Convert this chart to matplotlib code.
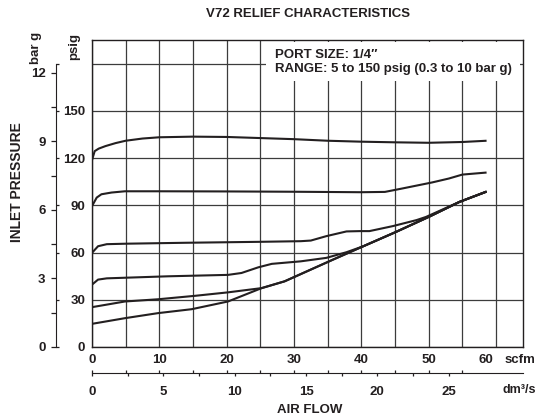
import matplotlib
matplotlib.use("Agg")
import matplotlib.pyplot as plt
from matplotlib.patches import Rectangle

plt.rcParams['font.family'] = ['Liberation Sans', 'DejaVu Sans']
plt.rcParams['font.weight'] = 'bold'

INK = '#231f20'
GRID = '#3c3c3c'
SCFM_PER_DM3S = 2.1189
PSI_PER_BAR = 14.5038
FS = 9.5

# relief curves, air flow in scfm vs inlet pressure in psig
flow_1 = [0, 0.4, 1, 2, 3.5, 5, 7.5, 10, 15, 20, 25, 30, 35, 40, 45, 50, 55, 58.6]
psig_1 = [118.7, 124.4, 126, 127.6, 129.5, 131, 132.4, 133.2, 133.6, 133.4,
          132.7, 132, 131, 130.4, 130, 129.7, 130.2, 131]

flow_2 = [0, 0.7, 1.4, 2.9, 4.9, 10, 20, 30, 40, 43.5, 46, 50.5, 53, 55, 58.6]
psig_2 = [89.5, 94.9, 97, 98.1, 98.9, 98.9, 98.8, 98.6, 98.3, 98.5, 100.6,
          104.5, 107, 109.5, 110.8]

flow_3 = [0, 0.9, 2.2, 5, 14, 25, 31, 32.5, 34.8, 37.8, 39.8, 41.2, 44.7,
          48.2, 49.6, 54.6, 58.6]
psig_3 = [59.8, 64, 65.3, 65.6, 66.2, 66.8, 67.2, 67.6, 70.4, 73.4, 73.6,
          73.6, 76.8, 80.6, 82.6, 92.2, 98.7]

flow_4 = [0, 0.9, 2.2, 11.3, 20.2, 22.2, 24.7, 26.7, 31, 34.8, 37.8, 40.3,
          45, 50.1, 54.6, 58.6]
psig_4 = [39.6, 42.8, 43.6, 44.9, 45.8, 47, 50.6, 52.8, 54.4, 56.6, 60.2, 64,
          72.8, 82.8, 92.2, 98.7]

flow_5 = [0, 4.9, 9.8, 15.3, 20.2, 25.2, 28.6, 31, 35.8, 40.3, 45, 50.1,
          54.6, 58.6]
psig_5 = [25.3, 28.9, 30.3, 32.5, 34.7, 37.4, 41.7, 46.3, 55.5, 64, 72.8,
          82.8, 92.2, 98.7]

flow_6 = [0, 4.9, 9.8, 14.8, 20.2, 25.2, 28.6, 31, 35.8, 40.3, 45, 50.1,
          54.6, 58.6]
psig_6 = [14.7, 18.3, 21.5, 24, 28.9, 37.4, 41.7, 46.3, 55.5, 64, 72.8,
          82.8, 92.2, 98.7]

curves = [(flow_1, psig_1), (flow_2, psig_2), (flow_3, psig_3),
          (flow_4, psig_4), (flow_5, psig_5), (flow_6, psig_6)]

scfm_ticks = [0, 10, 20, 30, 40, 50, 60]
scfm_labels = ['0', '10', '20', '30', '40', '50', '']
dm3s_ticks = [0, 5, 10, 15, 20, 25]
dm3s_minor = [2.5, 7.5, 12.5, 17.5, 22.5]
psig_ticks = [0, 30, 60, 90, 120, 150, 180]
psig_labels = ['0', '30', '60', '90', '120', '150', '']
bar_ticks = [0, 3, 6, 9, 12]
bar_minor = [1.5, 4.5, 7.5, 10.5]

X_MAX = 64
Y_MAX = 195

fig = plt.figure(figsize=(5.38, 4.16), dpi=100)
left, bottom, width, height = 0.171, 0.1659, 0.801, 0.738

# main grid
ax = fig.add_axes([left, bottom, width, height])
ax.set_xlim(0, X_MAX)
ax.set_ylim(0, Y_MAX)
ax.set_xticks(scfm_ticks)
ax.set_xticklabels(scfm_labels)
ax.set_xticks(range(5, 61, 10), minor=True)
ax.set_yticks(psig_ticks)
ax.set_yticklabels([])
ax.tick_params(axis='both', which='both', length=0, labelsize=FS,
               colors=INK, pad=5)
ax.grid(True, which='both', color=GRID, lw=0.9)
for s in ax.spines.values():
    s.set_color(INK)
    s.set_linewidth(1.0)
for fx, fy in curves:
    ax.plot(fx, fy, color=INK, lw=1.5, solid_capstyle='butt', zorder=3)

# last scfm label sits a little left, followed by the unit
ax.annotate('60', xy=(scfm_ticks[-1], 0), xycoords=('data', 'axes fraction'),
            xytext=(-10, -13), textcoords='offset pixels', fontsize=FS,
            ha='center', va='center', color=INK, annotation_clip=False)
ax.annotate('scfm', xy=(scfm_ticks[-1], 0), xycoords=('data', 'axes fraction'),
            xytext=(9, -13), textcoords='offset pixels', fontsize=FS,
            ha='left', va='center', color=INK, annotation_clip=False)

ax.add_patch(Rectangle((0.404, 0.866), 0.589, 0.127, transform=ax.transAxes,
                       facecolor='white', edgecolor='none', zorder=2.5))
ax.text(0.4246, 0.952, 'PORT SIZE: 1/4\u2033', transform=ax.transAxes,
        fontsize=FS, va='center', ha='left', color=INK, zorder=4)
ax.text(0.4246, 0.904, 'RANGE: 5 to 150 psig (0.3 to 10 bar g)',
        transform=ax.transAxes, fontsize=FS, va='center', ha='left',
        color=INK, zorder=4)

# pressure scales, bar g on the left of the line, psig on the right
axb = fig.add_axes([56 / 538, bottom, 0.0001, height])
axb.set_ylim(0, Y_MAX)
axb.set_xticks([])
for name in ['top', 'bottom', 'right']:
    axb.spines[name].set_visible(False)
axb.spines['left'].set_bounds(0, 180)
axb.spines['left'].set_color(INK)
axb.set_yticks([b * PSI_PER_BAR for b in bar_ticks])
axb.set_yticklabels([str(b) for b in bar_ticks])
axb.set_yticks([b * PSI_PER_BAR for b in bar_minor], minor=True)
axb.tick_params(axis='y', which='both', direction='out', length=3.6,
                width=0.9, colors=INK, labelsize=FS, pad=4)

axp = axb.twinx()
axp.set_ylim(0, Y_MAX)
for name in ['top', 'bottom', 'left', 'right']:
    axp.spines[name].set_visible(False)
axp.set_yticks(psig_ticks)
axp.set_yticklabels(psig_labels)
axp.tick_params(axis='y', direction='out', length=2.5, width=0.9,
                colors=INK, labelsize=FS, pad=18.5)
for lab in axp.get_yticklabels():
    lab.set_ha('right')

# second flow scale in dm3/s below the plot
axd = fig.add_axes([left, 1 - 373 / 416, width, 0.0001])
axd.set_xlim(0, X_MAX)
axd.set_yticks([])
for name in ['top', 'left', 'right']:
    axd.spines[name].set_visible(False)
axd.spines['bottom'].set_color(INK)
axd.set_xticks([d * SCFM_PER_DM3S for d in dm3s_ticks])
axd.set_xticklabels([str(d) for d in dm3s_ticks])
axd.set_xticks([d * SCFM_PER_DM3S for d in dm3s_minor], minor=True)
axd.tick_params(axis='x', which='both', direction='out', length=2.5,
                width=0.9, colors=INK, labelsize=FS, pad=7)
axu = axd.twiny()
axu.set_xlim(0, X_MAX)
for name in ['top', 'bottom', 'left', 'right']:
    axu.spines[name].set_visible(False)
axu.set_xticks(range(0, 56, 5))
axu.set_xticklabels([])
axu.tick_params(axis='x', direction='out', length=2.5, width=0.9, colors=INK)

fig.text(536 / 538, 1 - 390 / 416, 'dm\u00b3/s', fontsize=9, ha='right',
         va='center', color=INK)
fig.text(310 / 538, 1 - 410 / 416, 'AIR FLOW', fontsize=FS, ha='center',
         va='center', color=INK)
fig.text(308 / 538, 1 - 14 / 416, 'V72 RELIEF CHARACTERISTICS', fontsize=FS,
         ha='center', va='center', color=INK)
fig.text(17 / 538, 1 - 182 / 416, 'INLET PRESSURE', fontsize=10,
         rotation=90, ha='center', va='center', color=INK)
fig.text(36 / 538, 1 - 48 / 416, 'bar g', fontsize=FS, rotation=90,
         ha='center', va='center', color=INK)
fig.text(74 / 538, 1 - 47 / 416, 'psig', fontsize=FS, rotation=90,
         ha='center', va='center', color=INK)

fig.savefig('out.png', dpi=100)
